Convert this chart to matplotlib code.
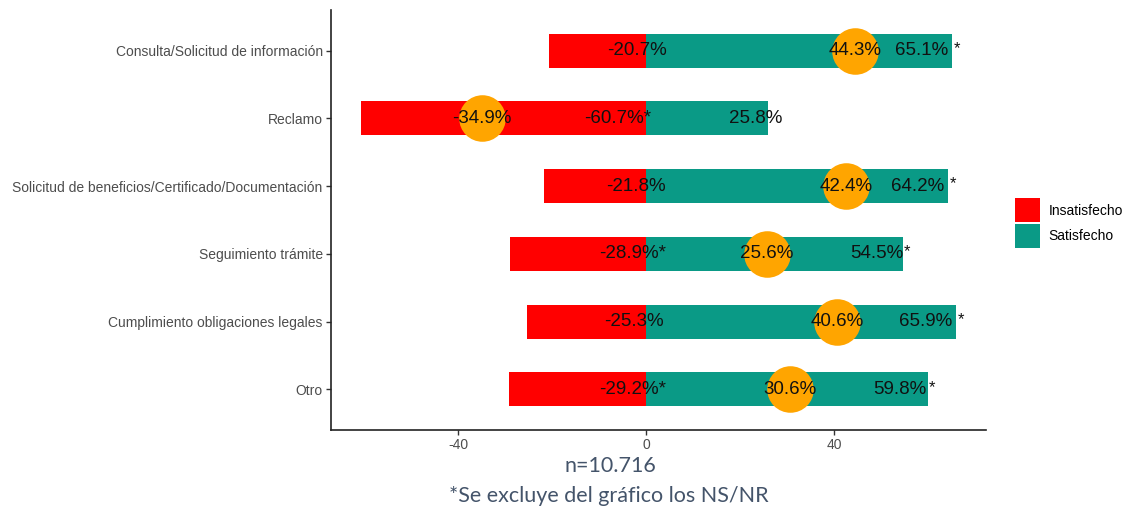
import numpy as np
import matplotlib.pyplot as plt
from matplotlib.patches import Patch

categories = [
    "Consulta/Solicitud de información",
    "Reclamo",
    "Solicitud de beneficios/Certificado/Documentación",
    "Seguimiento trámite",
    "Cumplimiento obligaciones legales",
    "Otro",
]
insatisfecho = [-20.7, -60.7, -21.8, -28.9, -25.3, -29.2]
satisfecho = [65.1, 25.8, 64.2, 54.5, 65.9, 59.8]
neto = [44.3, -34.9, 42.4, 25.6, 40.6, 30.6]
ins_star = [False, True, False, True, False, True]
sat_star = [True, False, True, True, True, True]

RED = "#FF0000"
TEAL = "#0A9A86"
ORANGE = "#FFA500"

plt.rcParams['font.family'] = ['Liberation Sans', 'DejaVu Sans']

fig = plt.figure(figsize=(11.3, 5.19), dpi=100)
ax = fig.add_axes([331 / 1130, 1 - 430 / 519, (986 - 331) / 1130, 420 / 519])

y = np.arange(len(categories))
ax.barh(y, insatisfecho, height=0.5, color=RED, zorder=2)
ax.barh(y, satisfecho, height=0.5, color=TEAL, zorder=2)
ax.scatter(neto, y, s=44 ** 2 * 0.58, color=ORANGE, zorder=3, linewidths=0)

for i in range(len(categories)):
    lab = f"{insatisfecho[i]:.1f}%" + ("*" if ins_star[i] else "")
    ax.text(0.1 * insatisfecho[i], y[i], lab, ha='center', va='center',
            fontsize=13.5, color='#111111', zorder=4)
    ax.text(0.9 * satisfecho[i], y[i], f"{satisfecho[i]:.1f}%", ha='center',
            va='center', fontsize=13.5, color='#111111', zorder=4)
    if sat_star[i]:
        ax.text(satisfecho[i] + 0.3, y[i] - 0.03, "*", ha='left', va='center',
                fontsize=12, color='#111111', zorder=4)
    ax.text(neto[i], y[i], f"{neto[i]:.1f}%", ha='center', va='center',
            fontsize=13.5, color='#111111', zorder=4)

lo = min(insatisfecho)
hi = max(satisfecho)
pad = 0.05 * (hi - lo)
ax.set_xlim(lo - pad, hi + pad)
ax.set_ylim(len(categories) - 0.4, -0.6)
ax.set_xticks([-40, 0, 40])
ax.set_xticklabels(["-40", "0", "40"])
ax.set_yticks(y)
ax.set_yticklabels(categories)
ax.tick_params(axis='both', labelsize=10, length=3.5, width=1,
               colors='#333333', labelcolor='#4D4D4D')
ax.tick_params(axis='x', pad=2)
ax.tick_params(axis='y', pad=2.5)
for s in ['top', 'right']:
    ax.spines[s].set_visible(False)
for s in ['left', 'bottom']:
    ax.spines[s].set_linewidth(1.2)
    ax.spines[s].set_color('#222222')

handles = [Patch(facecolor=RED, label="Insatisfecho"),
           Patch(facecolor=TEAL, label="Satisfecho")]
fig.legend(handles=handles, loc='center left',
           bbox_to_anchor=(1008 / 1130, 1 - 223 / 519), frameon=False,
           fontsize=10, handlelength=1.8, handleheight=2.3,
           labelspacing=0.1, handletextpad=0.6, borderpad=0)

foot_font = ['Lato', 'DejaVu Sans']
fig.text(610 / 1130, 1 - 466 / 519, "n=10.716", ha='center', va='center',
         fontsize=15.5, color='#44546A', family=foot_font)
fig.text(609 / 1130, 1 - 496 / 519, "*Se excluye del gráfico los NS/NR",
         ha='center', va='center', fontsize=15.5, color='#44546A',
         family=foot_font)

fig.savefig("out.png", dpi=100)
